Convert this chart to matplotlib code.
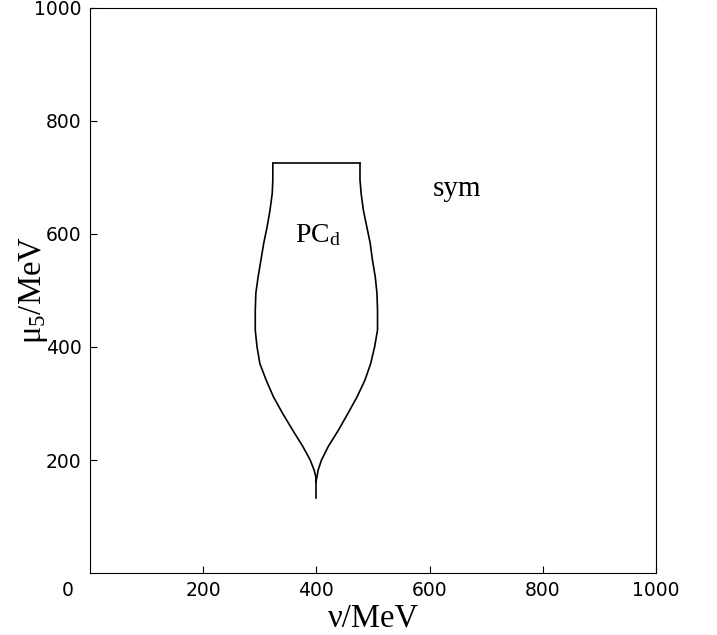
import numpy as np
import matplotlib
matplotlib.use("Agg")
import matplotlib.pyplot as plt

plt.rcParams['mathtext.fontset'] = 'custom'
plt.rcParams['mathtext.rm'] = 'Liberation Serif'
plt.rcParams['mathtext.it'] = 'Liberation Serif:italic'

# phase boundary of PC_d region (nu, mu5 in MeV)
mu_top   = 725
nu_top_l = 323
nu_top_r = 477

bnd_mu  = [725, 696, 672, 642, 613, 584, 554, 524, 495, 465, 430, 401,
           371, 342, 312, 283, 253, 224, 200, 182, 170, 162]
left_nu  = [323, 323, 322, 318, 313, 307, 302, 297, 293, 292, 292, 295,
            300, 311, 324, 340, 358, 376, 389, 396, 399, 399]
right_nu = [477, 477, 479, 483, 489, 495, 499, 504, 507, 508, 508, 503,
            496, 486, 472, 456, 439, 421, 409, 403, 401, 399]

stem_mu = [162, 132]
stem_nu = [399, 399]

serif = 'Liberation Serif'

fig = plt.figure(figsize=(7.17, 6.35), dpi=100)
ax = fig.add_axes([90/717, 1-573/635, 566/717, 565/635])

ax.plot(left_nu, bnd_mu, color='black', lw=1.2)
ax.plot(right_nu, bnd_mu, color='black', lw=1.2)
ax.plot([nu_top_l, nu_top_r], [mu_top, mu_top], color='black', lw=1.2)
ax.plot(stem_nu, stem_mu, color='black', lw=1.2)

ax.text(362, 586, r'PC$_\mathrm{d}$', fontsize=20, family=serif)
ax.text(605, 667, 'sym', fontsize=21, family=serif)

ax.set_xlim(0, 1000)
ax.set_ylim(0, 1000)
ax.set_xticks([200, 400, 600, 800, 1000])
ax.set_yticks([200, 400, 600, 800, 1000])
ax.tick_params(direction='in', length=5, labelsize=13.5, pad=6)
fig.text(68/717, 1-590/635, '0', fontsize=13.5, ha='center', va='center')

ax.set_xlabel(u'\u03bd/MeV', fontsize=23.5, family=serif, labelpad=2)
ax.set_ylabel(u'\u03bc$_5$/MeV', fontsize=23.5, family=serif)
ax.yaxis.set_label_coords(-0.07, 0.5)

fig.savefig('out.png', dpi=100)
